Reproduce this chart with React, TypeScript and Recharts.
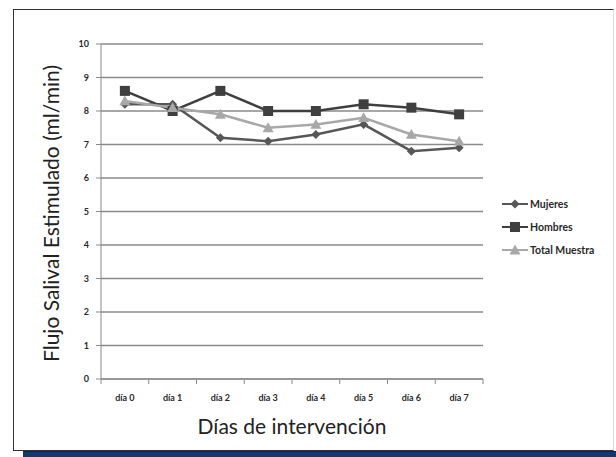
import React from "react";
import {
  LineChart,
  Line,
  XAxis,
  YAxis,
  CartesianGrid,
} from "recharts";

const dias = ["día 0", "día 1", "día 2", "día 3", "día 4", "día 5", "día 6", "día 7"];
const mujeres = [8.2, 8.2, 7.2, 7.1, 7.3, 7.6, 6.8, 6.9];
const hombres = [8.6, 8.0, 8.6, 8.0, 8.0, 8.2, 8.1, 7.9];
const totalMuestra = [8.3, 8.1, 7.9, 7.5, 7.6, 7.8, 7.3, 7.1];
const yTicks = [0, 1, 2, 3, 4, 5, 6, 7, 8, 9, 10];

const data = dias.map((d, i) => ({
  dia: d,
  Mujeres: mujeres[i],
  Hombres: hombres[i],
  Total: totalMuestra[i],
}));

const FONT = "Lato, 'Open Sans', sans-serif";
const GRID = "#8a8a8a";

const COL_M = "#575757";
const COL_H = "#3f3f3f";
const COL_T = "#a8a8a8";

function Diamond({ cx, cy, fill }: any) {
  if (cx == null || cy == null) return null;
  const r = 4.5;
  return (
    <path
      d={`M${cx},${cy - r}L${cx + r},${cy}L${cx},${cy + r}L${cx - r},${cy}Z`}
      fill={fill}
    />
  );
}

function Square({ cx, cy, fill }: any) {
  if (cx == null || cy == null) return null;
  const r = 5;
  return <rect x={cx - r} y={cy - r} width={r * 2} height={r * 2} fill={fill} />;
}

function Triangle({ cx, cy, fill }: any) {
  if (cx == null || cy == null) return null;
  const r = 5.5;
  return (
    <path
      d={`M${cx},${cy - r}L${cx + r},${cy + r * 0.8}L${cx - r},${cy + r * 0.8}Z`}
      fill={fill}
    />
  );
}

// day labels in the middle, tick marks on the category borders (Excel style)
function DayTick(props: any) {
  const { x, y, payload, index, visibleTicksCount } = props;
  const off = payload.offset || 0;
  const top = y - 8;
  return (
    <g>
      <line x1={x - off} x2={x - off} y1={top} y2={top + 5} stroke={GRID} />
      {index === visibleTicksCount - 1 && (
        <line x1={x + off} x2={x + off} y1={top} y2={top + 5} stroke={GRID} />
      )}
      <text
        x={x}
        y={y + 14}
        textAnchor="middle"
        fontSize={9}
        fontWeight={700}
        fill="#2a2a2a"
        fontFamily={FONT}
      >
        {payload.value}
      </text>
    </g>
  );
}

const legendItems = [
  { name: "Mujeres", color: COL_M, Shape: Diamond },
  { name: "Hombres", color: COL_H, Shape: Square },
  { name: "Total Muestra", color: COL_T, Shape: Triangle },
];

function LegendBox() {
  return (
    <div style={{ fontFamily: FONT }}>
      {legendItems.map((it) => (
        <div
          key={it.name}
          style={{ display: "flex", alignItems: "center", height: 23 }}
        >
          <svg width={28} height={14}>
            <line x1={0} x2={26} y1={7} y2={7} stroke={it.color} strokeWidth={2} />
            <it.Shape cx={13} cy={7} fill={it.color} />
          </svg>
          <span style={{ fontSize: 10.5, fontWeight: 700, color: "#2a2a2a" }}>
            {it.name}
          </span>
        </div>
      ))}
    </div>
  );
}

export default function App() {
  return (
    <div
      style={{
        position: "absolute",
        left: 0,
        top: 0,
        width: 616,
        height: 457,
        background: "#fff",
        overflow: "hidden",
      }}
    >
      <div
        style={{
          position: "absolute",
          left: 13,
          top: 9,
          width: 601,
          height: 442,
          border: "1px solid #333",
          borderRight: "1px solid #ddd",
          boxSizing: "border-box",
        }}
      />
      <div
        style={{
          position: "absolute",
          left: 23,
          top: 451,
          width: 593,
          height: 6,
          background: "#0d3b6e",
          borderTop: "1px solid #222",
          boxSizing: "border-box",
        }}
      />
      <div style={{ position: "absolute", left: 0, top: 0 }}>
        <LineChart
          width={616}
          height={457}
          data={data}
          margin={{ top: 44, right: 133, bottom: 48, left: 71 }}
        >
          <CartesianGrid vertical={false} stroke={GRID} strokeWidth={1.3} />
          <XAxis
            dataKey="dia"
            scale="band"
            stroke={GRID}
            tickLine={false}
            tick={<DayTick />}
            height={30}
            interval={0}
            label={{
              value: "Días de intervención",
              position: "bottom",
              offset: 0,
              dy: 10,
              fontSize: 21,
              fill: "#222",
              fontFamily: FONT,
            }}
          />
          <YAxis
            domain={[0, 10]}
            ticks={yTicks}
            interval={0}
            width={30}
            stroke={GRID}
            tickSize={5}
            tickMargin={7}
            tick={{ fontSize: 9, fontWeight: 700, fill: "#2a2a2a", fontFamily: FONT }}
            label={{
              value: "Flujo Salival Estimulado (ml/min)",
              angle: -90,
              position: "center",
              dx: -34,
              dy: 2,
              fontSize: 21,
              fill: "#222",
              fontFamily: FONT,
            }}
          />
          <Line
            dataKey="Mujeres"
            stroke={COL_M}
            strokeWidth={2.5}
            dot={<Diamond fill={COL_M} />}
            isAnimationActive={false}
          />
          <Line
            dataKey="Hombres"
            stroke={COL_H}
            strokeWidth={2.5}
            dot={<Square fill={COL_H} />}
            isAnimationActive={false}
          />
          <Line
            dataKey="Total"
            name="Total Muestra"
            stroke={COL_T}
            strokeWidth={2.5}
            dot={<Triangle fill={COL_T} />}
            isAnimationActive={false}
          />
        </LineChart>
      </div>
      <div style={{ position: "absolute", left: 502, top: 192, width: 112 }}>
        <LegendBox />
      </div>
    </div>
  );
}
